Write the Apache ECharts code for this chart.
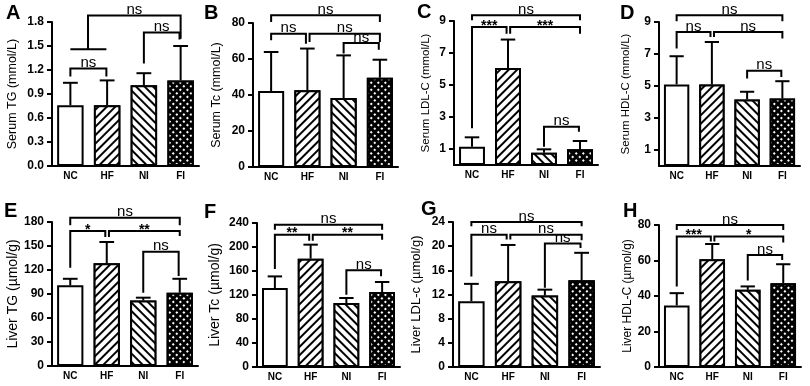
<!DOCTYPE html>
<html>
<head>
<meta charset="utf-8">
<script src="https://cdn.jsdelivr.net/npm/echarts@6/dist/echarts.min.js"></script>
<style>
  html, body { margin: 0; padding: 0; background: #fff; }
  #chart { width: 810px; height: 386px; }
</style>
</head>
<body>
<div id="chart"></div>
<script>
const groups = ['NC', 'HF', 'NI', 'FI'];

// significance brackets: [from, to, height, left leg end, right leg end, label]
// A Serum TG
const serumTGMean = [0.76, 0.76, 1.01, 1.07];
const serumTGSD = [0.28, 0.31, 0.15, 0.43];
const serumTGTicks = [0, 0.3, 0.6, 0.9, 1.2, 1.5, 1.8];
const serumTGSig = [
  [0, 0.98, 1.46, 1.46, 1.46, ''],
  [0.48, 3, 1.88, 1.46, 1.59, 'ns'],
  [0, 0.98, 1.22, 1.12, 1.12, 'ns'],
  [2, 2.97, 1.67, 1.28, 1.58, 'ns']
];
// B Serum Tc
const serumTcMean = [42.2, 42.6, 38.3, 49.6];
const serumTcSD = [21.7, 23.2, 23.7, 10];
const serumTcTicks = [0, 20, 40, 60, 80];
const serumTcSig = [
  [0, 3, 84.3, 80.5, 80.5, 'ns'],
  [0, 0.96, 74, 70.4, 68.5, 'ns'],
  [1.06, 3, 74, 69.4, 69.5, 'ns'],
  [2, 2.97, 68.9, 63, 65.2, 'ns']
];
// C Serum LDL-C
const serumLDLMean = [1.14, 6.07, 0.77, 0.98];
const serumLDLSD = [0.59, 1.77, 0.21, 0.52];
const serumLDLTicks = [1, 3, 5, 7, 9];
const serumLDLSig = [
  [0, 3, 9.36, 9.05, 9.05, 'ns'],
  [0, 0.96, 8.63, 2.29, 8.2, '***'],
  [1.06, 3, 8.63, 8.2, 8.2, '***'],
  [2, 2.97, 2.39, 1.14, 2.08, 'ns']
];
// D Serum HDL-C
const serumHDLMean = [5.1, 5.1, 4.16, 4.22];
const serumHDLSD = [1.76, 2.65, 0.48, 1.08];
const serumHDLTicks = [1, 3, 5, 7, 9];
const serumHDLSig = [
  [0, 3, 9.42, 9.05, 9.05, 'ns'],
  [0, 0.96, 8.38, 7.34, 8.07, 'ns'],
  [1.06, 3, 8.38, 8.07, 7.97, 'ns'],
  [2, 2.97, 5.95, 5.47, 5.57, 'ns']
];
// E Liver TG
const liverTGMean = [100.8, 128.3, 82, 91.6];
const liverTGSD = [8.2, 26.7, 3.4, 17.4];
const liverTGTicks = [0, 30, 60, 90, 120, 150, 180];
const liverTGSig = [
  [0, 3, 185.4, 175.8, 175.8, 'ns'],
  [0, 0.96, 168.8, 122.9, 161.3, '*'],
  [1.06, 3, 168.8, 161.3, 162.5, '**'],
  [2, 2.97, 142.9, 91.6, 112.5, 'ns']
];
// F Liver Tc
const liverTcMean = [131.7, 180.6, 106.7, 125];
const liverTcSD = [19.3, 23.3, 8.3, 16.7];
const liverTcTicks = [0, 40, 80, 120, 160, 200, 240];
const liverTcSig = [
  [0, 3, 237.2, 228.9, 228.9, 'ns'],
  [0, 0.96, 220.6, 163.3, 210.6, '**'],
  [1.06, 3, 220.6, 210.6, 212.2, '**'],
  [2, 2.97, 161.1, 120.6, 151.1, 'ns']
];
// G Liver LDL-c
const liverLDLMean = [10.9, 14.2, 11.83, 14.37];
const liverLDLSD = [2.86, 6, 0.97, 4.53];
const liverLDLTicks = [0, 4, 8, 12, 16, 20, 24];
const liverLDLSig = [
  [0, 3, 24, 23.3, 23.3, 'ns'],
  [0, 0.96, 21.9, 15, 21.1, 'ns'],
  [1.06, 3, 21.9, 21.1, 21, 'ns'],
  [2, 2.97, 20.45, 13.1, 19.7, 'ns']
];
// H Liver HDL-C
const liverHDLMean = [34.7, 60.7, 43.5, 47.2];
const liverHDLSD = [6.9, 8.6, 1.9, 10.7];
const liverHDLTicks = [0, 20, 40, 60, 80];
const liverHDLSig = [
  [0, 3, 80, 77.2, 77.2, 'ns'],
  [0, 0.96, 73.5, 45.4, 70.7, '***'],
  [1.06, 3, 73.5, 70.7, 70.1, '*'],
  [2, 2.97, 63.1, 48.7, 60.3, 'ns']
];

const panels = [
  { letter: 'A', name: 'Serum TG (mmol/L)', mean: serumTGMean, sd: serumTGSD, ticks: serumTGTicks, sig: serumTGSig, digits: 1,
    box: { left: 52, top: 22, width: 147, height: 144 }, lt: [6, 3], nameGap: 33, nameSize: 12.5 },
  { letter: 'B', name: 'Serum Tc (mmol/L)', mean: serumTcMean, sd: serumTcSD, ticks: serumTcTicks, sig: serumTcSig, digits: 0,
    box: { left: 253, top: 23, width: 145, height: 144 }, lt: [204, 3], nameGap: 30, nameSize: 12.5 },
  { letter: 'C', name: 'Serum LDL-C (mmol/L)', mean: serumLDLMean, sd: serumLDLSD, ticks: serumLDLTicks, sig: serumLDLSig, digits: 0,
    box: { left: 454, top: 21, width: 144, height: 144 }, lt: [417, 2], nameGap: 22, nameSize: 11.5 },
  { letter: 'D', name: 'Serum HDL-C (mmol/L)', mean: serumHDLMean, sd: serumHDLSD, ticks: serumHDLTicks, sig: serumHDLSig, digits: 0,
    box: { left: 659, top: 22, width: 141, height: 144 }, lt: [620, 3], nameGap: 27, nameSize: 11.5 },
  { letter: 'E', name: 'Liver TG (\u00b5mol/g)', mean: liverTGMean, sd: liverTGSD, ticks: liverTGTicks, sig: liverTGSig, digits: 0,
    box: { left: 52, top: 222, width: 146, height: 144 }, lt: [4, 201], nameGap: 30, nameSize: 14 },
  { letter: 'F', name: 'Liver Tc (\u00b5mol/g)', mean: liverTcMean, sd: liverTcSD, ticks: liverTcTicks, sig: liverTcSig, digits: 0,
    box: { left: 257, top: 223, width: 143, height: 144 }, lt: [204, 202], nameGap: 35, nameSize: 14 },
  { letter: 'G', name: 'Liver LDL-c (\u00b5mol/g)', mean: liverLDLMean, sd: liverLDLSD, ticks: liverLDLTicks, sig: liverLDLSig, digits: 0,
    box: { left: 453, top: 222, width: 147, height: 145 }, lt: [421, 199], nameGap: 30, nameSize: 13 },
  { letter: 'H', name: 'Liver HDL-C (\u00b5mol/g)', mean: liverHDLMean, sd: liverHDLSD, ticks: liverHDLTicks, sig: liverHDLSig, digits: 0,
    box: { left: 659, top: 225, width: 142, height: 142 }, lt: [623, 201], nameGap: 24, nameSize: 12 }
];

const FONT = 'Liberation Sans, Arial, sans-serif';

const decals = [
  null,
  { symbol: 'rect', symbolSize: 1, dashArrayX: [1, 0], dashArrayY: [2, 4], rotation: -Math.PI / 4, color: '#000', backgroundColor: '#fff' },
  { symbol: 'rect', symbolSize: 1, dashArrayX: [1, 0], dashArrayY: [2, 4], rotation: Math.PI / 4, color: '#000', backgroundColor: '#fff' },
  { symbol: 'rect', symbolSize: 1, dashArrayX: [2, 2.5], dashArrayY: [2, 2.5], rotation: Math.PI / 4, color: '#fff', backgroundColor: '#000' }
];

const errorRender = (params, api) => {
  const i = api.value(0);
  const base = api.coord([i, api.value(1)]);
  const top = api.coord([i, api.value(1) + api.value(2)]);
  const half = api.size([1, 0])[0] * 0.72 * 0.28;
  const ls = { stroke: '#000', lineWidth: 2 };
  return {
    type: 'group',
    children: [
      { type: 'line', shape: { x1: base[0], y1: base[1], x2: top[0], y2: top[1] }, style: ls },
      { type: 'line', shape: { x1: top[0] - half, y1: top[1], x2: top[0] + half, y2: top[1] }, style: ls }
    ]
  };
};

const bracketRender = sig => (params, api) => {
  const s = sig[params.dataIndex];
  const band = api.size([1, 0])[0];
  const px = (c, v) => {
    const b = Math.floor(c);
    const p = api.coord([b, v]);
    return [p[0] + (c - b) * band, p[1]];
  };
  const a0 = px(s[0], s[3]), a1 = px(s[0], s[2]), b1 = px(s[1], s[2]), b0 = px(s[1], s[4]);
  const children = [{
    type: 'polyline', shape: { points: [a0, a1, b1, b0] },
    style: { stroke: '#000', lineWidth: 2, fill: 'none' }
  }];
  if (s[5]) {
    const star = s[5] !== 'ns';
    children.push({
      type: 'text', x: (a1[0] + b1[0]) / 2, y: star ? a1[1] - 1 : a1[1] + 2,
      style: {
        text: s[5], fill: '#000', align: 'center', verticalAlign: star ? 'middle' : 'bottom',
        font: (star ? 'bold 14px ' : '15px ') + FONT
      }
    });
  }
  return { type: 'group', children };
};

const option = {
  animation: false,
  backgroundColor: '#fff',
  textStyle: { fontFamily: FONT, color: '#000' },
  title: [], grid: [], xAxis: [], yAxis: [], series: []
};

panels.forEach((p, k) => {
  option.title.push({
    text: p.letter, left: p.lt[0], top: p.lt[1], padding: 0,
    textStyle: { fontSize: 20, fontWeight: 'bold', color: '#000', fontFamily: FONT }
  });
  option.grid.push(Object.assign({ containLabel: false }, p.box));
  option.xAxis.push({
    type: 'category', gridIndex: k, data: groups,
    axisLine: { lineStyle: { color: '#000', width: 2 } },
    axisTick: { alignWithLabel: true, length: 3, lineStyle: { color: '#000', width: 1.5 } },
    axisLabel: { color: '#000', fontSize: 10, fontWeight: 'bold', margin: 5, fontFamily: FONT }
  });
  option.yAxis.push({
    type: 'value', gridIndex: k, min: 0, max: p.ticks[p.ticks.length - 1],
    name: p.name, nameLocation: 'middle', nameGap: p.nameGap,
    nameTextStyle: { color: '#000', fontSize: p.nameSize, fontFamily: FONT },
    axisLine: { show: true, lineStyle: { color: '#000', width: 2 } },
    axisTick: { show: true, length: 5, customValues: p.ticks, lineStyle: { color: '#000', width: 2 } },
    axisLabel: {
      color: '#000', fontSize: 12, fontWeight: 'bold', margin: 8, fontFamily: FONT,
      customValues: p.ticks, formatter: v => v.toFixed(p.digits)
    },
    splitLine: { show: false }
  });
  option.series.push({
    type: 'bar', xAxisIndex: k, yAxisIndex: k, barWidth: '72%',
    data: p.mean.map((v, i) => ({
      value: v,
      itemStyle: decals[i] ? { decal: decals[i] } : {}
    })),
    itemStyle: { color: '#fff', borderColor: '#000', borderWidth: 2 }
  });
  option.series.push({
    type: 'custom', xAxisIndex: k, yAxisIndex: k, z: 3, clip: false,
    encode: { x: 0, y: 1 },
    data: p.mean.map((v, i) => [i, v, p.sd[i]]),
    renderItem: errorRender
  });
  option.series.push({
    type: 'custom', xAxisIndex: k, yAxisIndex: k, z: 4, clip: false,
    encode: { x: 0, y: 1 },
    data: p.sig.map(s => [Math.floor(s[0]), s[2]]),
    renderItem: bracketRender(p.sig)
  });
});

const myChart = echarts.init(document.getElementById('chart'));
myChart.setOption(option);
window.addEventListener('resize', () => myChart.resize());
</script>
</body>
</html>
